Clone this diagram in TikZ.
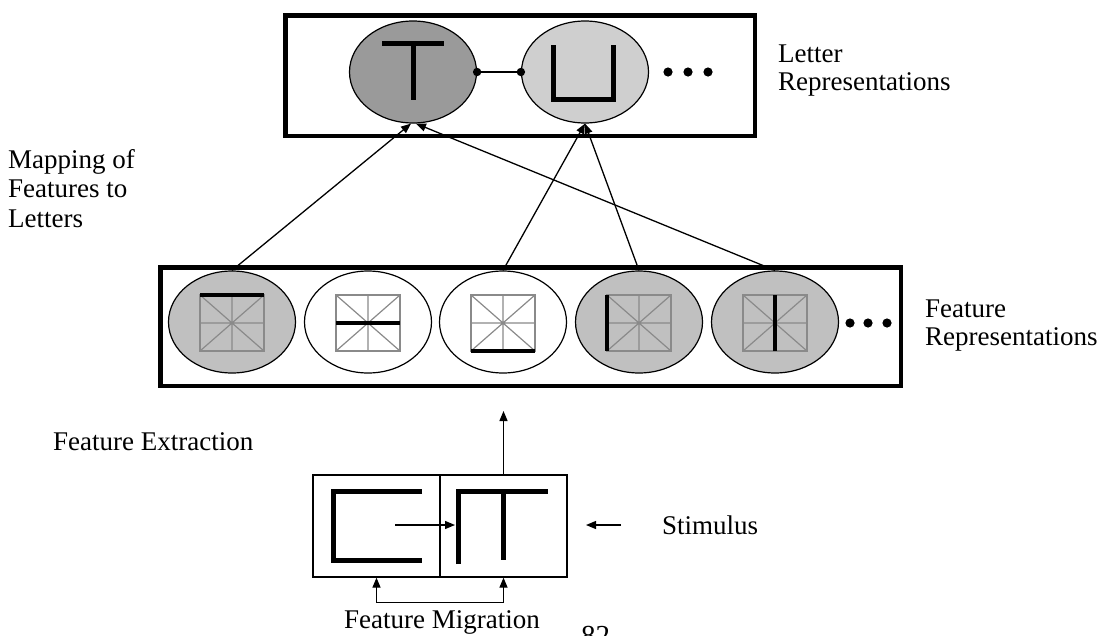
\documentclass[tikz,border=0pt]{standalone}
\usepackage{fontspec}
\setmainfont{Liberation Serif}
\usetikzlibrary{shapes.geometric,arrows.meta}

\definecolor{letterdark}{HTML}{9A9A9A}
\definecolor{letterlight}{HTML}{CFCFCF}
\definecolor{featgray}{HTML}{C0C0C0}
\definecolor{gridgray}{HTML}{8A8A8A}

\tikzset{
  frame/.style={draw=black, line width=4.5pt},
  blob/.style={ellipse, draw=black, line width=1.2pt, inner sep=0pt,
               minimum width=127pt, minimum height=102pt},
  stroke/.style={line width=5pt, black},
  featbar/.style={line width=4.5pt, black},
  lbl/.style={anchor=base west, inner sep=0pt, font=\fontsize{27}{28}\selectfont},
  arr/.style={line width=1.3pt, -{Triangle[length=10pt,width=8pt]}},
  stimbox/.style={rectangle, draw=black, line width=1.3pt, inner sep=0pt,
                  minimum width=127pt, minimum height=102pt},
  featgrid/.pic={
    \draw[gridgray, line width=1.4pt] (-32,-28) rectangle (32,28);
    \draw[gridgray, line width=1.2pt] (-32,0) -- (32,0) (0,-28) -- (0,28)
         (-32,-28) -- (32,28) (-32,28) -- (32,-28);
  }
}

\begin{document}
\begin{tikzpicture}[x=1pt, y=-1pt]
\useasboundingbox (0,0) rectangle (1110,635);

% ---- letter level ----
\draw[frame] (285.25,15.25) rectangle (754.75,135.75);
\node[blob, fill=letterdark]  (T) at (413,72) {};
\node[blob, fill=letterlight] (U) at (585,72) {};
% glyph T
\draw[stroke] (382,43) -- (444,43) (413,43) -- (413,100);
% glyph U
\draw[stroke] (553,45) -- (553,99) -- (613,99) -- (613,45);
% lateral link between letters
\draw[line width=1.3pt] (T.east) -- (U.west);
\fill (T.east) circle (4.2) (U.west) circle (4.2);
\fill (668,72) circle (4.6) (688,72) circle (4.6) (708,72) circle (4.6);

\node[lbl] (lr1) at (778,62) {Letter};
\node[lbl] (lr2) at (778,90) {Representations};

% ---- feature level ----
\draw[frame] (160.25,267.25) rectangle (900.75,385.75);
\node[blob, fill=featgray] (f1) at (232,322) {};
\node[blob, fill=white]    (f2) at (368,322) {};
\node[blob, fill=white]    (f3) at (503,322) {};
\node[blob, fill=featgray] (f4) at (639,322) {};
\node[blob, fill=featgray] (f5) at (775,322) {};
\foreach \c in {232,368,503,639,775} { \pic at (\c,323) {featgrid}; }
% the feature each unit codes
\draw[featbar] (200,295) -- (264,295);
\draw[featbar] (336,323) -- (400,323);
\draw[featbar] (471,351) -- (535,351);
\draw[featbar] (607,295) -- (607,351);
\draw[featbar] (775,295) -- (775,351);
\fill (850,323) circle (4.6) (868,323) circle (4.6) (887,323) circle (4.6);

\node[lbl] (fr1) at (925,317) {Feature};
\node[lbl] (fr2) at (925,345) {Representations};

% ---- mapping of features to letters ----
\draw[arr] (f1.north) -- ([xshift=-2pt]T.south);
\draw[arr] (f5.north) -- ([xshift=3pt]T.south);
\draw[arr] (f3.north) -- (U.south);
\draw[arr] (f4.north) -- (U.south);

\node[lbl] (mp1) at (8,168) {Mapping of};
\node[lbl] (mp2) at (8,197) {Features to};
\node[lbl] (mp3) at (8,227) {Letters};

% ---- stimulus ----
\node[stimbox] (s1) at (376.5,526) {};
\node[stimbox] (s2) at (503.5,526) {};
% left item
\draw[stroke] (422,491) -- (333,491) -- (333,560) -- (422,560);
% right item
\draw[stroke] (458,564) -- (458,491) -- (548,491);
\draw[stroke] (503,491) -- (503,560);
% migrating stroke
\coordinate (migtail) at (395,525);
\coordinate (mighead) at (455,525);
\draw[arr] (migtail) -- (mighead);

% extraction arrow
\coordinate (extr) at (503.5,411);
\draw[arr] (s2.north) -- (extr);
\node[lbl] (fe) at (53,450) {Feature Extraction};

% stimulus pointer
\coordinate (stimtail) at (621,525);
\coordinate (stimhead) at (586,525);
\draw[arr] (stimtail) -- (stimhead);
\node[lbl] (st) at (662,534) {Stimulus};

% feature migration bracket
\draw[line width=1.3pt, {Triangle[length=10pt,width=8pt]}-{Triangle[length=10pt,width=8pt]}]
  (s1.south) -- ++(0,25) -| (s2.south);
\node[lbl] (fm) at (344,628) {Feature Migration};

% page number
\node[lbl, font=\fontsize{29}{30}\selectfont] (pg) at (581,645) {82};
\end{tikzpicture}
\end{document}
